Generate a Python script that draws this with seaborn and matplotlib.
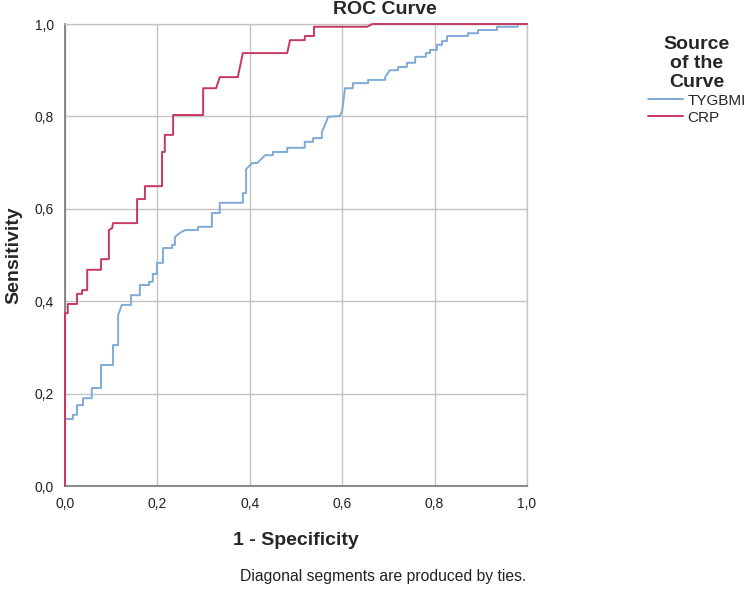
import numpy as np
import pandas as pd
import matplotlib
matplotlib.use("Agg")
import matplotlib.pyplot as plt
import seaborn as sns

# ROC vertices (1 - specificity, sensitivity)
tyg_fpr = [0.0, 0.0, 0.017, 0.017, 0.026, 0.026, 0.039, 0.039, 0.058, 0.058,
           0.078, 0.078, 0.104, 0.104, 0.115, 0.115, 0.123, 0.143, 0.143, 0.162,
           0.162, 0.182, 0.182, 0.19, 0.19, 0.199, 0.199, 0.212, 0.212, 0.232,
           0.232, 0.238, 0.238, 0.249, 0.26, 0.288, 0.288, 0.318, 0.318, 0.335,
           0.335, 0.385, 0.385, 0.392, 0.392, 0.396, 0.405, 0.416, 0.433, 0.45,
           0.45, 0.481, 0.481, 0.519, 0.519, 0.537, 0.537, 0.556, 0.556, 0.567,
           0.569, 0.595, 0.6, 0.606, 0.623, 0.623, 0.656, 0.656, 0.693, 0.693,
           0.703, 0.721, 0.721, 0.74, 0.74, 0.758, 0.758, 0.781, 0.781, 0.79,
           0.79, 0.805, 0.805, 0.816, 0.816, 0.827, 0.827, 0.872, 0.872, 0.894,
           0.894, 0.935, 0.935, 0.98, 0.98, 1.0]
tyg_tpr = [0.0, 0.145, 0.145, 0.154, 0.154, 0.175, 0.175, 0.19, 0.19, 0.212,
           0.212, 0.262, 0.262, 0.305, 0.305, 0.37, 0.392, 0.392, 0.413, 0.413,
           0.435, 0.435, 0.442, 0.442, 0.459, 0.459, 0.483, 0.483, 0.515, 0.515,
           0.522, 0.522, 0.539, 0.548, 0.554, 0.554, 0.561, 0.561, 0.591, 0.591,
           0.613, 0.613, 0.634, 0.634, 0.686, 0.69, 0.699, 0.699, 0.716, 0.716,
           0.723, 0.723, 0.732, 0.732, 0.745, 0.745, 0.753, 0.753, 0.766, 0.792,
           0.799, 0.801, 0.812, 0.861, 0.861, 0.872, 0.872, 0.879, 0.879, 0.885,
           0.9, 0.9, 0.907, 0.907, 0.916, 0.916, 0.929, 0.929, 0.937, 0.937,
           0.944, 0.944, 0.955, 0.955, 0.963, 0.963, 0.974, 0.974, 0.98, 0.98,
           0.987, 0.987, 0.994, 0.994, 1.0, 1.0]

crp_fpr = [0.0, 0.0, 0.006, 0.006, 0.026, 0.026, 0.037, 0.037, 0.048, 0.048,
           0.078, 0.078, 0.095, 0.095, 0.102, 0.104, 0.156, 0.156, 0.173, 0.173,
           0.21, 0.21, 0.216, 0.216, 0.234, 0.234, 0.299, 0.299, 0.327, 0.335,
           0.374, 0.385, 0.481, 0.487, 0.519, 0.519, 0.539, 0.539, 0.654, 0.665,
           1.0]
crp_tpr = [0.0, 0.374, 0.374, 0.394, 0.394, 0.416, 0.416, 0.424, 0.424, 0.468,
           0.468, 0.491, 0.491, 0.554, 0.558, 0.569, 0.569, 0.621, 0.621, 0.649,
           0.649, 0.723, 0.723, 0.76, 0.76, 0.803, 0.803, 0.861, 0.861, 0.885,
           0.885, 0.937, 0.937, 0.965, 0.965, 0.974, 0.974, 0.994, 0.994, 1.0,
           1.0]

series = ["TYGBMI", "CRP"]
colors = ["#7eaad6", "#c9385f"]
ticks = [0.0, 0.2, 0.4, 0.6, 0.8, 1.0]
tick_labels = ["0,0", "0,2", "0,4", "0,6", "0,8", "1,0"]

df = pd.concat([
    pd.DataFrame({"fpr": tyg_fpr, "tpr": tyg_tpr, "Source": "TYGBMI"}),
    pd.DataFrame({"fpr": crp_fpr, "tpr": crp_tpr, "Source": "CRP"}),
], ignore_index=True)

sns.set_style("white")
plt.rcParams["font.family"] = ["Liberation Sans", "DejaVu Sans"]

fig = plt.figure(figsize=(7.5, 5.93), dpi=100)
ax = fig.add_axes([65 / 750, 1 - 486 / 593, 462 / 750, 462 / 593])

sns.lineplot(data=df, x="fpr", y="tpr", hue="Source", hue_order=series,
             palette=colors, sort=False, estimator=None, units="Source",
             linewidth=1.4, ax=ax, legend=True)
for line in ax.lines:
    line.set_clip_on(False)
    line.set_zorder(5)

ax.set_xlim(0, 1)
ax.set_ylim(0, 1)
ax.set_xticks(ticks)
ax.set_xticklabels(tick_labels)
ax.set_yticks(ticks)
ax.set_yticklabels(tick_labels)
ax.tick_params(length=0, labelsize=10, colors="#222222")
ax.tick_params(axis="x", pad=8)
ax.tick_params(axis="y", pad=8)
ax.grid(True, color="#c4c4c4", linewidth=1.0)
ax.set_axisbelow(True)
for side in ["top", "right"]:
    ax.spines[side].set_color("#c4c4c4")
    ax.spines[side].set_linewidth(1.0)
for side in ["left", "bottom"]:
    ax.spines[side].set_color("#777777")
    ax.spines[side].set_linewidth(1.2)

ax.set_xlabel("1 - Specificity", fontsize=14, fontweight="bold", labelpad=15)
ax.set_ylabel("Sensitivity", fontsize=14, fontweight="bold", labelpad=9)

fig.text(385 / 750, 1 - 9 / 593, "ROC Curve", ha="center", va="center",
         fontsize=14, fontweight="bold")
fig.text(383 / 750, 1 - 577 / 593, "Diagonal segments are produced by ties.",
         ha="center", va="center", fontsize=11.3, color="#222222")

ax.get_legend().remove()
handles, labels = ax.get_legend_handles_labels()
leg = fig.legend(handles, labels, title="Source\nof the\nCurve",
                 loc="upper center", bbox_to_anchor=(697 / 750, 1 - 22 / 593),
                 frameon=False, fontsize=11, title_fontsize=14,
                 handlelength=2.3, handletextpad=0.3, labelspacing=0.2,
                 alignment="center")
leg.get_title().set_fontweight("bold")
leg.get_title().set_multialignment("center")
leg.get_title().set_linespacing(1.15)

fig.savefig("out.png", dpi=100)
